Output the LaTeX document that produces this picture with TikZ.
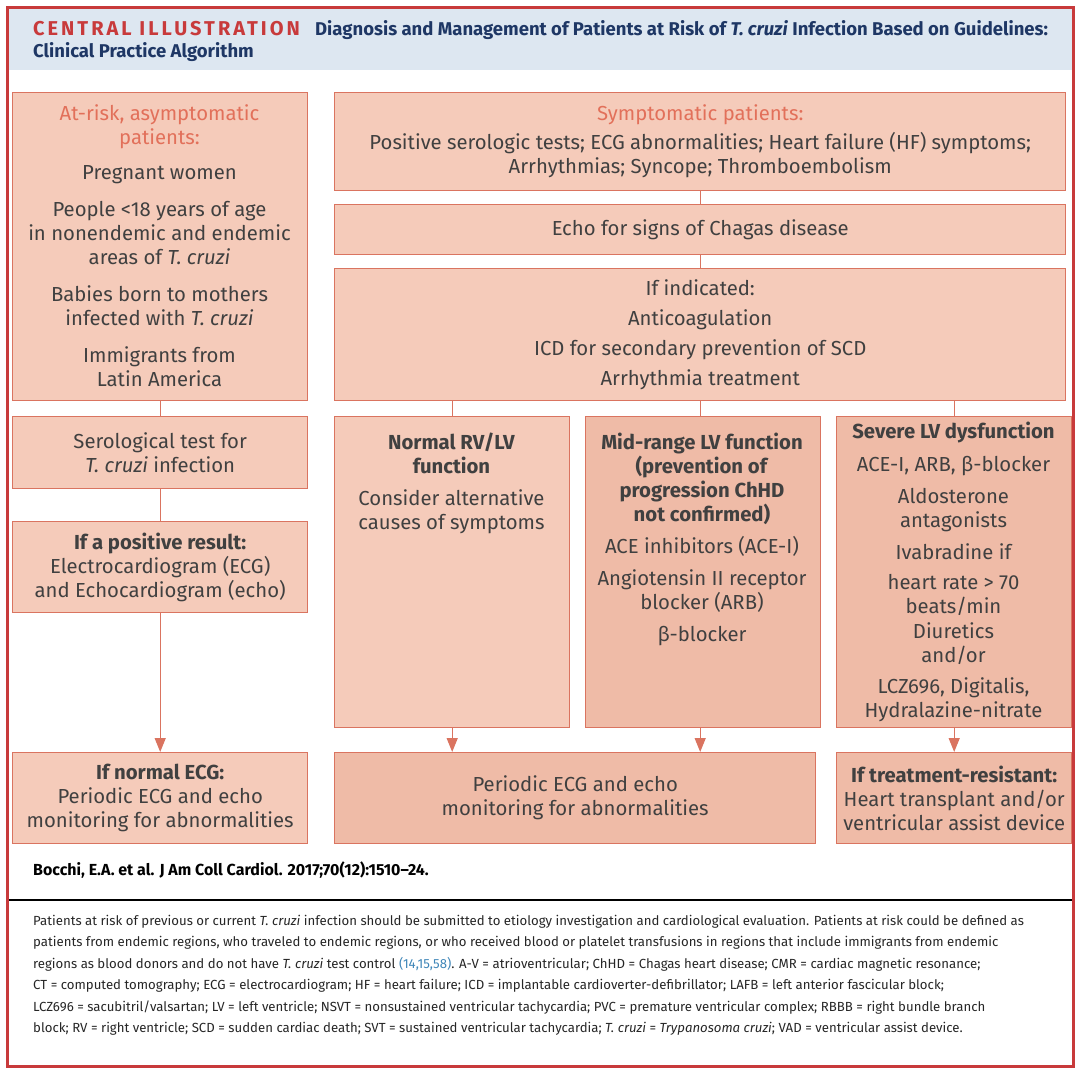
\documentclass[tikz,border=0pt]{standalone}
\usepackage{fontspec}
\setmainfont{Fira Sans}
\newfontfamily\capfont[LetterSpace=15]{Fira Sans}
\usetikzlibrary{arrows.meta}
\definecolor{framered}{HTML}{C83A3B}
\definecolor{hdrblue}{HTML}{DDE7F1}
\definecolor{navy}{HTML}{1E3765}
\definecolor{boxlight}{HTML}{F5CBBA}
\definecolor{boxdark}{HTML}{EFBBA7}
\definecolor{boxline}{HTML}{DA7460}
\definecolor{txtgray}{HTML}{404040}
\definecolor{headred}{HTML}{E2705A}
\definecolor{linkblue}{HTML}{3F86B8}
\newcommand\bodyfont{\fontsize{20.3}{24}\selectfont}
\newcommand\capsize{\fontsize{13.2}{21.4}\selectfont}
\newcommand\tc{\textit{T. cruzi}}
\begin{document}
\begin{tikzpicture}[x=1pt,y=-1pt,
  box/.style={draw=boxline, fill=boxlight, line width=1.4pt, inner sep=0pt,
              align=center, text=txtgray, font=\bodyfont},
  dbox/.style={box, fill=boxdark},
  txt/.style={inner sep=0pt, align=center, text=txtgray, font=\bodyfont},
  conn/.style={draw=boxline, line width=1.4pt},
  arr/.style={conn, -{Triangle[length=14pt,width=11pt]}},
  hd/.style={text=headred}]
\useasboundingbox (0,0) rectangle (1080,1071);
% header band and frame
\fill[hdrblue] (9,9) rectangle (1072,70);
\draw[framered, line width=3pt] (7.5,7.5) rectangle (1073.5,1066);
\node[anchor=base west, inner sep=0pt, text=framered, font=\capfont\fontsize{20}{22}\selectfont\bfseries] (central) at (33,35) {CENTRAL ILLUSTRATION};
\node[anchor=base west, inner sep=0pt, text=navy, font=\fontsize{18.5}{20}\selectfont\bfseries] (title1) at (315,35) {Diagnosis and Management of Patients at Risk of \textit{T. cruzi} Infection Based on Guidelines:};
\node[anchor=base west, inner sep=0pt, text=navy, font=\fontsize{18.5}{20}\selectfont\bfseries] (title2) at (33,57) {Clinical Practice Algorithm};

% left column
\node[box, minimum width=295pt, minimum height=308pt, anchor=north west] (atrisk) at (12,92) {};
\node[txt, anchor=north] (atrisk-t) at (159.5,104) {\textcolor{headred}{At-risk, asymptomatic}\\\textcolor{headred}{patients:}\\[11pt]
  Pregnant women\\[13pt]
  People <18 years of age\\in nonendemic and endemic\\areas of \tc\\[13pt]
  Babies born to mothers\\infected with \tc\\[13pt]
  Immigrants from\\Latin America};
\node[box, minimum width=295pt, minimum height=72pt, anchor=north west] (sero) at (12,416) {Serological test for\\\tc{} infection};
\node[box, minimum width=295pt, minimum height=91pt, anchor=north west] (pos) at (12,521) {\textbf{If a positive result:}\\Electrocardiogram (ECG)\\and Echocardiogram (echo)};
\node[box, minimum width=295pt, minimum height=91pt, anchor=north west] (normecg) at (12,752) {\textbf{If normal ECG:}\\Periodic ECG and echo\\monitoring for abnormalities};

% right column
\node[box, minimum width=731pt, minimum height=98pt, anchor=north west] (sympt) at (334,92) {\textcolor{headred}{Symptomatic patients:}\\[5pt]Positive serologic tests; ECG abnormalities; Heart failure (HF) symptoms;\\Arrhythmias; Syncope; Thromboembolism};
\node[box, minimum width=731pt, minimum height=50pt, anchor=north west] (echo) at (334,204) {Echo for signs of Chagas disease};
\node[box, minimum width=731pt, minimum height=132pt, anchor=north west] (ind) at (334,268) {If indicated:\\[6pt]Anticoagulation\\[6pt]ICD for secondary prevention of SCD\\[6pt]Arrhythmia treatment};

\node[box, minimum width=235pt, minimum height=311pt, anchor=north west] (normal) at (334,416) {};
\node[txt, anchor=north] (normal-t) at (451.5,433) {\textbf{Normal RV/LV}\\\textbf{function}\\[8pt]Consider alternative\\causes of symptoms};

\node[dbox, minimum width=235pt, minimum height=311pt, anchor=north west] (mid) at (585,416) {};
\node[txt, anchor=north] (mid-t) at (702,433) {\textbf{Mid-range LV function}\\\textbf{(prevention of}\\\textbf{progression ChHD}\\\textbf{not confirmed)}\\[8pt]
  ACE inhibitors (ACE-I)\\[8pt]Angiotensin II receptor\\blocker (ARB)\\[8pt]β-blocker};

\node[dbox, minimum width=235pt, minimum height=311pt, anchor=north west] (severe) at (836,416) {};
\node[txt, anchor=north] (severe-t) at (953.5,422) {\textbf{Severe LV dysfunction}\\[9pt]
  ACE-I, ARB, β-blocker\\[8pt]Aldosterone\\antagonists\\[8pt]Ivabradine if\\[6pt]heart rate > 70\\beats/min\\[1pt]Diuretics\\and/or\\[7pt]LCZ696, Digitalis,\\Hydralazine-nitrate};

\node[dbox, minimum width=481pt, minimum height=91pt, anchor=north west] (periodic) at (334,752) {Periodic ECG and echo\\monitoring for abnormalities};
\node[dbox, minimum width=235pt, minimum height=91pt, anchor=north west] (resist) at (836,752) {\textbf{If treatment-resistant:}\\Heart transplant and/or\\ventricular assist device};

% connectors
\draw[conn] (atrisk) -- (sero);
\draw[conn] (sero) -- (pos);
\draw[arr] (pos) -- (normecg);
\draw[conn] (sympt) -- (echo);
\draw[conn] (echo) -- (ind);
\draw[conn] (normal.north) -- (normal.north |- ind.south);
\draw[conn] (ind.south) -- (ind.south |- mid.north);
\draw[conn] (severe.north) -- (severe.north |- ind.south);
\draw[arr] (normal.south) -- (normal.south |- periodic.north);
\draw[arr] (ind.south |- mid.south) -- (ind.south |- periodic.north);
\draw[arr] (severe) -- (resist);

% citation and caption
\node[anchor=base west, inner sep=0pt, font=\fontsize{16}{18}\selectfont\bfseries] (cite) at (33,875) {Bocchi, E.A. et al. J Am Coll Cardiol. 2017;70(12):1510–24.};
\draw[line width=1.2pt] (9,900) -- (1072,900);
\node[anchor=north west, inner sep=0pt, align=left, font=\capsize, text=black!85] (caption) at (33,915) {Patients at risk of previous or current \tc{} infection should be submitted to etiology investigation and cardiological evaluation. Patients at risk could be defined as\\
patients from endemic regions, who traveled to endemic regions, or who received blood or platelet transfusions in regions that include immigrants from endemic\\
regions as blood donors and do not have \tc{} test control \textcolor{linkblue}{(14,15,58)}. A-V = atrioventricular; ChHD = Chagas heart disease; CMR = cardiac magnetic resonance;\\
CT = computed tomography; ECG = electrocardiogram; HF = heart failure; ICD = implantable cardioverter-defibrillator; LAFB = left anterior fascicular block;\\
LCZ696 = sacubitril/valsartan; LV = left ventricle; NSVT = nonsustained ventricular tachycardia; PVC = premature ventricular complex; RBBB = right bundle branch\\
block; RV = right ventricle; SCD = sudden cardiac death; SVT = sustained ventricular tachycardia; \tc{} = \textit{Trypanosoma cruzi}; VAD = ventricular assist device.};
\end{tikzpicture}
\end{document}
